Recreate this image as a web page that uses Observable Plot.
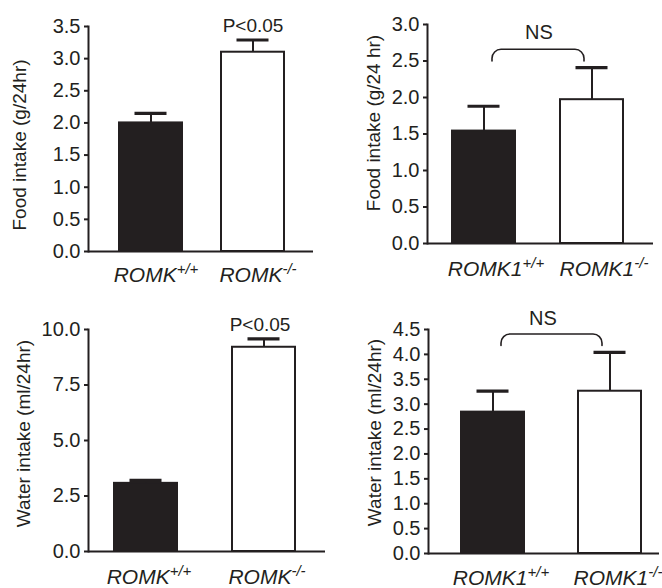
<!DOCTYPE html>
<html><head><meta charset="utf-8">
<script src="https://cdn.jsdelivr.net/npm/d3@7"></script>
<script src="https://cdn.jsdelivr.net/npm/@observablehq/plot@0.6"></script>
<style>
body{margin:0;background:#fff;}
#wrap{position:relative;width:662px;height:588px;background:#fff;overflow:hidden;}
.panel{position:absolute;width:331px;height:294px;}
.panel svg{overflow:visible;}
</style></head><body><div id="wrap"></div>
<script>
// ---- data ----
const catsROMK = ["ROMK+/+", "ROMK-/-"];
const catsROMK1 = ["ROMK1+/+", "ROMK1-/-"];

const foodROMK = [2.0, 3.1];
const foodROMKErr = [0.15, 0.19];
const foodROMK1 = [1.54, 1.97];
const foodROMK1Err = [0.34, 0.44];
const waterROMK = [3.07, 9.2];
const waterROMKErr = [0.13, 0.38];
const waterROMK1 = [2.84, 3.26];
const waterROMK1Err = [0.42, 0.78];

const ticksFoodROMK = [0, 0.5, 1.0, 1.5, 2.0, 2.5, 3.0, 3.5];
const ticksFoodROMK1 = [0, 0.5, 1.0, 1.5, 2.0, 2.5, 3.0];
const ticksWaterROMK = [0, 2.5, 5.0, 7.5, 10.0];
const ticksWaterROMK1 = [0, 0.5, 1.0, 1.5, 2.0, 2.5, 3.0, 3.5, 4.0, 4.5];

const titleFoodROMK = "Food intake (g/24hr)";
const titleFoodROMK1 = "Food intake (g/24 hr)";
const titleWater = "Water intake (ml/24hr)";

const sigLabel = "P<0.05";
const nsLabel = "NS";
const sigFoodY = 3.51;
const sigWaterY = 10.19;
const bracketFood = [2.5, 2.66];   // [end, top]
const nsFoodY = 2.89;
const bracketWater = [4.18, 4.41];
const nsWaterY = 4.72;

const INK = "#231f20";
const FONT = "Arial, 'Liberation Sans', Helvetica, sans-serif";

function bracketCurve(radius, inset) {
  return (context) => {
    let pts = [];
    return {
      areaStart() {}, areaEnd() {},
      lineStart() { pts = []; },
      point(x, y) { pts.push([+x, +y]); },
      lineEnd() {
        const p = pts.map(d => d.slice());
        const n = p.length;
        p[0][0] += inset; p[1][0] += inset;
        p[n - 1][0] -= inset; p[n - 2][0] -= inset;
        context.moveTo(p[0][0], p[0][1]);
        for (let i = 1; i < n - 1; i++) context.arcTo(p[i][0], p[i][1], p[i + 1][0], p[i + 1][1], radius);
        context.lineTo(p[n - 1][0], p[n - 1][1]);
      }
    };
  };
}

function panel(cfg) {
  const rows = cfg.cats.map((c, i) => ({cat: c, v: cfg.values[i], e: cfg.errs[i], top: cfg.values[i] + cfg.errs[i], fill: i === 0 ? INK : "#fff"}));
  const marks = [
    Plot.barY(rows, {x: "cat", y: "v", fill: "fill", stroke: INK, strokeWidth: 2}),
    Plot.ruleX(rows, {x: "cat", y1: "v", y2: "top", stroke: INK, strokeWidth: 2}),
    Plot.tickY(rows, {x: "cat", y: "top", stroke: INK, strokeWidth: 3.2, insetLeft: 15.5, insetRight: 15.5}),
    Plot.ruleY([0], {stroke: INK, strokeWidth: 2}),
    Plot.frame({anchor: "left", stroke: INK, strokeWidth: 2}),
    Plot.axisY({ticks: cfg.ticks, tickFormat: d3.format(".1f"), tickSize: 4, tickPadding: 4, fontSize: 20, strokeWidth: 2, stroke: INK, fill: INK, label: null}),
    Plot.axisX({tickSize: 0, tickPadding: cfg.labelPad, fontSize: 21, fontStyle: "italic", fill: INK, label: null, dx: cfg.labelDx}),
    Plot.text([cfg.title], {text: d => d, frameAnchor: "left", textAnchor: "middle", rotate: -90, dx: cfg.titleDx, dy: cfg.titleDy, fontSize: 19, fill: INK})
  ];
  if (cfg.sig) {
    marks.push(Plot.text([{cat: cfg.cats[1], y: cfg.sig.y}], {x: "cat", y: "y", text: () => cfg.sig.label, fontSize: 19, fill: INK, dx: cfg.sig.dx}));
  }
  if (cfg.bracket) {
    const b = cfg.bracket;
    const pts = [
      {cat: cfg.cats[0], y: b.ys[0]}, {cat: cfg.cats[0], y: b.ys[1]},
      {cat: cfg.cats[1], y: b.ys[1]}, {cat: cfg.cats[1], y: b.ys[0]}
    ];
    marks.push(Plot.line(pts, {x: "cat", y: "y", stroke: INK, strokeWidth: 1.6, curve: bracketCurve(9, 8)}));
    marks.push(Plot.text([{cat: cfg.cats[0], y: b.textY}], {x: "cat", y: "y", text: () => b.label, fontSize: 20, fill: INK, dx: b.textDx}));
  }
  const svg = Plot.plot({
    width: 331, height: 294,
    marginLeft: cfg.m[0], marginTop: cfg.m[1], marginRight: cfg.m[2], marginBottom: cfg.m[3],
    style: {fontFamily: FONT, background: "#fff", color: INK, overflow: "visible"},
    x: {type: "band", domain: cfg.cats, range: cfg.xRange, paddingInner: cfg.pad, paddingOuter: 0, align: 0.5},
    y: {domain: cfg.yDomain, nice: false},
    marks
  });
  // superscripts on category labels
  svg.querySelectorAll('g[aria-label="x-axis tick label"] text').forEach(t => {
    const m = /^(ROMK1?)(.*)$/.exec(t.textContent);
    if (!m) return;
    t.textContent = "";
    const a = document.createElementNS("http://www.w3.org/2000/svg", "tspan");
    a.textContent = m[1];
    const s = document.createElementNS("http://www.w3.org/2000/svg", "tspan");
    s.textContent = m[2];
    s.setAttribute("font-size", "15");
    s.setAttribute("dy", "-8");
    t.appendChild(a); t.appendChild(s);
  });
  const div = document.createElement("div");
  div.className = "panel";
  div.style.left = cfg.pos[0] + "px";
  div.style.top = cfg.pos[1] + "px";
  div.appendChild(svg);
  document.getElementById("wrap").appendChild(div);
}

panel({
  pos: [0, 0], cats: catsROMK, values: foodROMK, errs: foodROMKErr, ticks: ticksFoodROMK,
  yDomain: [0, 3.5], m: [88, 26, 18, 43], xRange: [119, 284.5], pad: 0.385,
  title: titleFoodROMK, titleDx: -69, titleDy: 6, labelDx: 5, labelPad: 16,
  sig: {label: sigLabel, y: sigFoodY, dx: 0}
});
panel({
  pos: [331, 0], cats: catsROMK1, values: foodROMK1, errs: foodROMK1Err, ticks: ticksFoodROMK1,
  yDomain: [0, 3.0], m: [96, 24, 9, 51], xRange: [120.5, 292.5], pad: 0.42,
  title: titleFoodROMK1, titleDx: -54, titleDy: -11, labelDx: 12, labelPad: 18,
  bracket: {ys: bracketFood, textY: nsFoodY, label: nsLabel, textDx: 55}
});
panel({
  pos: [0, 294], cats: catsROMK, values: waterROMK, errs: waterROMKErr, ticks: ticksWaterROMK,
  yDomain: [0, 10], m: [88, 35, 6, 37], xRange: [113.5, 295], pad: 0.468,
  title: titleWater, titleDx: -65, titleDy: -7, labelDx: 3, labelPad: 18,
  sig: {label: sigLabel, y: sigWaterY, dx: -4}
});
panel({
  pos: [331, 294], cats: catsROMK1, values: waterROMK1, errs: waterROMK1Err, ticks: ticksWaterROMK1,
  yDomain: [0, 4.5], m: [97, 35, 3, 35], xRange: [130, 310.5], pad: 0.464,
  title: titleWater, titleDx: -54, titleDy: -9, labelDx: 8, labelPad: 17,
  bracket: {ys: bracketWater, textY: nsWaterY, label: nsLabel, textDx: 50}
});
</script>
</body></html>
